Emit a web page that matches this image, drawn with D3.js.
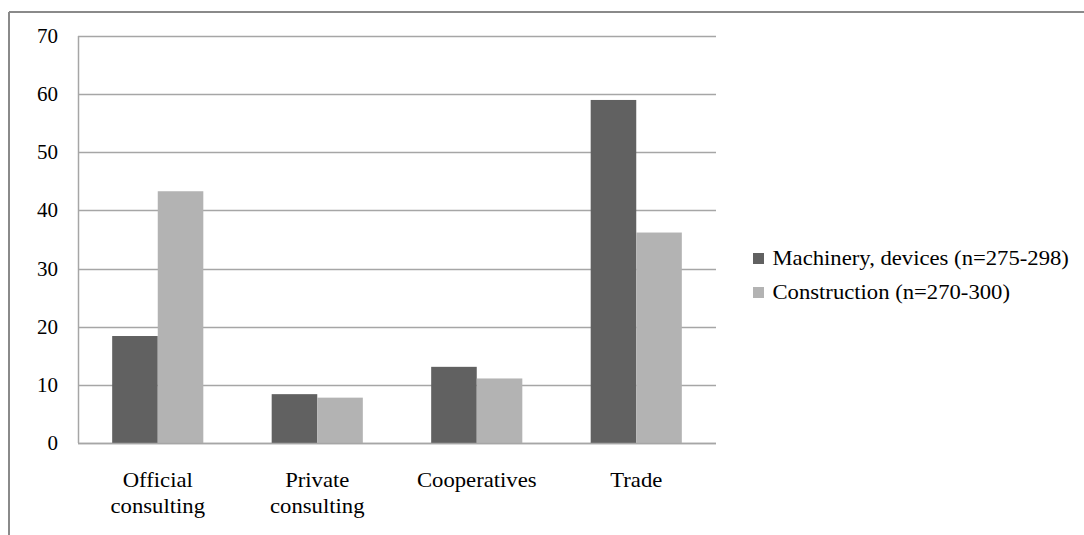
<!DOCTYPE html>
<html>
<head>
<meta charset="utf-8">
<script src="https://cdn.jsdelivr.net/npm/d3@7/dist/d3.min.js"></script>
<style>
  html, body { margin: 0; padding: 0; background: #fff; }
  svg { display: block; }
</style>
</head>
<body>
<svg id="chart" width="1084" height="535"></svg>
<script>
const categories = [["Official", "consulting"], ["Private", "consulting"], ["Cooperatives"], ["Trade"]];
const seriesNames = ["Machinery, devices (n=275-298)", "Construction (n=270-300)"];
const machinery = [18.4, 8.4, 13.1, 59.0];
const construction = [43.3, 7.8, 11.1, 36.2];
const yTicks = [0, 10, 20, 30, 40, 50, 60, 70];
const colors = ["#616161", "#b3b3b3"];
const FONT = "Liberation Serif";

const svg = d3.select("#chart");
const plot = { left: 78, right: 716, top: 36, bottom: 443 };

// outer frame (top & left visible)
svg.append("line").attr("x1", 9).attr("x2", 1084).attr("y1", 12).attr("y2", 12)
  .attr("stroke", "#8a8a8a").attr("stroke-width", 2);
svg.append("line").attr("x1", 9).attr("x2", 9).attr("y1", 12).attr("y2", 535)
  .attr("stroke", "#8a8a8a").attr("stroke-width", 2);

const x0 = d3.scaleBand().domain(d3.range(categories.length))
  .range([plot.left, plot.right]).paddingInner(0.4286).paddingOuter(0.2143);
const x1 = d3.scaleBand().domain([0, 1]).range([0, x0.bandwidth()]);
const y = d3.scaleLinear().domain([0, 70]).range([plot.bottom, plot.top]);

// gridlines
svg.append("g").selectAll("line").data(yTicks).join("line")
  .attr("x1", plot.left).attr("x2", plot.right)
  .attr("y1", d => Math.round(y(d)) + 0.5).attr("y2", d => Math.round(y(d)) + 0.5)
  .attr("stroke", "#a6a6a6").attr("stroke-width", 1.5);

// bars
const data = categories.map((c, i) => [machinery[i], construction[i]]);
const groups = svg.append("g").selectAll("g").data(data).join("g")
  .attr("transform", (d, i) => `translate(${x0(i)},0)`);
groups.selectAll("rect").data(d => d).join("rect")
  .attr("x", (d, j) => x1(j))
  .attr("width", x1.bandwidth())
  .attr("y", d => y(d))
  .attr("height", d => y(0) - y(d))
  .attr("fill", (d, j) => colors[j]);

// y axis line
svg.append("line").attr("x1", plot.left + 0.5).attr("x2", plot.left + 0.5)
  .attr("y1", plot.top).attr("y2", plot.bottom)
  .attr("stroke", "#a6a6a6").attr("stroke-width", 1.5);
// x baseline
svg.append("line").attr("x1", plot.left).attr("x2", plot.right)
  .attr("y1", Math.round(y(0)) + 0.5).attr("y2", Math.round(y(0)) + 0.5)
  .attr("stroke", "#a6a6a6").attr("stroke-width", 1.5);

// y tick labels
svg.append("g").selectAll("text").data(yTicks).join("text")
  .attr("x", 58).attr("y", d => y(d) + 7)
  .attr("text-anchor", "end")
  .attr("font-family", FONT).attr("font-size", 21)
  .text(d => d);

// x labels
const xl = svg.append("g").selectAll("text").data(categories).join("text")
  .attr("text-anchor", "middle").attr("font-family", FONT).attr("font-size", 21)
  .attr("transform", (d, i) => `translate(${x0(i) + x0.bandwidth() / 2},487) scale(1.08,1)`);
xl.selectAll("tspan").data(d => d).join("tspan")
  .attr("x", 0).attr("dy", (d, j) => j === 0 ? 0 : 26)
  .text(d => d);

// legend
const leg = svg.append("g").selectAll("g").data(seriesNames).join("g")
  .attr("transform", (d, i) => `translate(753,${258 + i * 34})`);
leg.append("rect").attr("x", 0).attr("y", -5).attr("width", 11).attr("height", 11)
  .attr("fill", (d, i) => colors[i]);
leg.append("text").attr("x", 18).attr("y", 7)
  .attr("font-family", FONT).attr("font-size", 21).attr("transform", "scale(1.08,1)")
  .text(d => d);
</script>
</body>
</html>
